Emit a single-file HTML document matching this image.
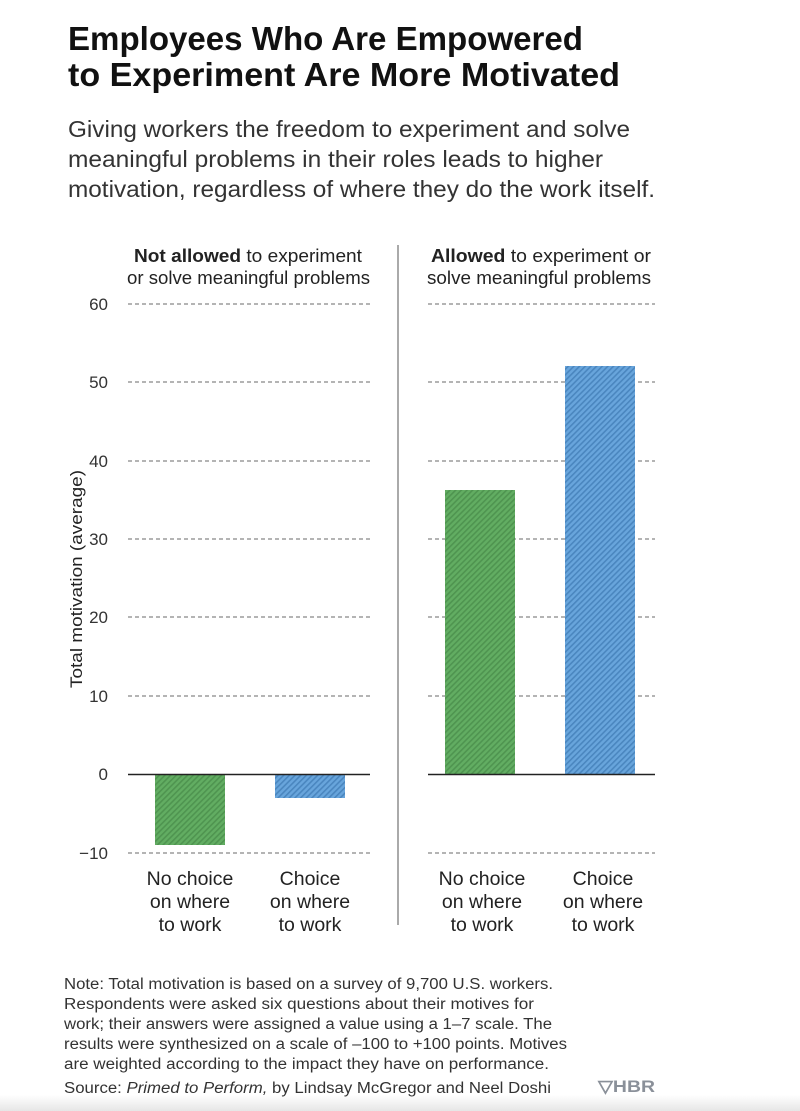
<!DOCTYPE html><html><head><style>body{margin:0;background:#fff}svg{display:block}text{font-family:"Liberation Sans",sans-serif}</style></head><body>
<svg width="800" height="1111" viewBox="0 0 800 1111" xmlns="http://www.w3.org/2000/svg">
<defs>
<pattern id="g" width="4" height="4" patternUnits="userSpaceOnUse" patternTransform="rotate(45)"><rect width="4" height="4" fill="#62ad62"/><rect width="1.6" height="4" fill="#4f9450"/></pattern>
<pattern id="b" width="4" height="4" patternUnits="userSpaceOnUse" patternTransform="rotate(45)"><rect width="4" height="4" fill="#68a5dc"/><rect width="1.6" height="4" fill="#4a86bf"/></pattern>
<linearGradient id="sh" x1="0" y1="0" x2="0" y2="1"><stop offset="0" stop-color="#fff"/><stop offset="1" stop-color="#e6e6e6"/></linearGradient>
</defs>
<rect x="0" y="1095" width="800" height="16" fill="url(#sh)"/>
<g font-weight="bold" font-size="33" fill="#111">
<text x="68" y="50" textLength="515" lengthAdjust="spacingAndGlyphs">Employees Who Are Empowered</text>
<text x="68" y="86" textLength="552" lengthAdjust="spacingAndGlyphs">to Experiment Are More Motivated</text></g>
<g font-size="23" fill="#333">
<text x="68" y="137" textLength="562" lengthAdjust="spacingAndGlyphs">Giving workers the freedom to experiment and solve</text>
<text x="68" y="167" textLength="535" lengthAdjust="spacingAndGlyphs">meaningful problems in their roles leads to higher</text>
<text x="68" y="197" textLength="587" lengthAdjust="spacingAndGlyphs">motivation, regardless of where they do the work itself.</text></g>
<g font-size="18.5" fill="#222">
<text x="134" y="262" textLength="228" lengthAdjust="spacingAndGlyphs"><tspan font-weight="bold">Not allowed</tspan> to experiment</text>
<text x="127" y="284" textLength="243" lengthAdjust="spacingAndGlyphs">or solve meaningful problems</text>
<text x="431" y="262" textLength="220" lengthAdjust="spacingAndGlyphs"><tspan font-weight="bold">Allowed</tspan> to experiment or</text>
<text x="427" y="284" textLength="224" lengthAdjust="spacingAndGlyphs">solve meaningful problems</text></g>
<line x1="398" y1="245" x2="398" y2="925" stroke="#555" stroke-width="1"/>
<g stroke="#888" stroke-width="1.2" stroke-dasharray="4,3">
<line x1="128" y1="304" x2="370" y2="304"/><line x1="428" y1="304" x2="655" y2="304"/>
<line x1="128" y1="382" x2="370" y2="382"/><line x1="428" y1="382" x2="655" y2="382"/>
<line x1="128" y1="461" x2="370" y2="461"/><line x1="428" y1="461" x2="655" y2="461"/>
<line x1="128" y1="539" x2="370" y2="539"/><line x1="428" y1="539" x2="655" y2="539"/>
<line x1="128" y1="617" x2="370" y2="617"/><line x1="428" y1="617" x2="655" y2="617"/>
<line x1="128" y1="696" x2="370" y2="696"/><line x1="428" y1="696" x2="655" y2="696"/>
<line x1="128" y1="853" x2="370" y2="853"/><line x1="428" y1="853" x2="655" y2="853"/>
</g>
<rect x="155" y="774" width="70" height="71" fill="url(#g)"/>
<rect x="275" y="774" width="70" height="24" fill="url(#b)"/>
<rect x="445" y="490" width="70" height="284" fill="url(#g)"/>
<rect x="565" y="366" width="70" height="408" fill="url(#b)"/>
<line x1="128" y1="774.5" x2="370" y2="774.5" stroke="#222" stroke-width="1.5"/>
<line x1="428" y1="774.5" x2="655" y2="774.5" stroke="#222" stroke-width="1.5"/>
<g font-size="17" fill="#333" text-anchor="end">
<text x="108" y="310">60</text><text x="108" y="388">50</text><text x="108" y="467">40</text><text x="108" y="545">30</text><text x="108" y="623">20</text><text x="108" y="702">10</text><text x="108" y="780">0</text><text x="108" y="859">−10</text></g>
<text transform="translate(82,579) rotate(-90)" font-size="17" fill="#222" text-anchor="middle" textLength="218" lengthAdjust="spacingAndGlyphs">Total motivation (average)</text>
<g font-size="19.5" fill="#222" text-anchor="middle">
<text x="190" y="885">No choice</text><text x="190" y="908">on where</text><text x="190" y="931">to work</text>
<text x="310" y="885">Choice</text><text x="310" y="908">on where</text><text x="310" y="931">to work</text>
<text x="482" y="885">No choice</text><text x="482" y="908">on where</text><text x="482" y="931">to work</text>
<text x="603" y="885">Choice</text><text x="603" y="908">on where</text><text x="603" y="931">to work</text></g>
<g font-size="15.5" fill="#333">
<text x="64" y="989" textLength="489" lengthAdjust="spacingAndGlyphs">Note: Total motivation is based on a survey of 9,700 U.S. workers.</text>
<text x="64" y="1009" textLength="470" lengthAdjust="spacingAndGlyphs">Respondents were asked six questions about their motives for</text>
<text x="64" y="1029" textLength="488" lengthAdjust="spacingAndGlyphs">work; their answers were assigned a value using a 1–7 scale. The</text>
<text x="64" y="1049" textLength="503" lengthAdjust="spacingAndGlyphs">results were synthesized on a scale of –100 to +100 points. Motives</text>
<text x="64" y="1069" textLength="485" lengthAdjust="spacingAndGlyphs">are weighted according to the impact they have on performance.</text>
<text x="64" y="1093" textLength="487" lengthAdjust="spacingAndGlyphs">Source: <tspan font-style="italic">Primed to Perform,</tspan> by Lindsay McGregor and Neel Doshi</text></g>
<text x="598" y="1092" font-size="17" font-weight="bold" fill="#8a9099" textLength="57" lengthAdjust="spacingAndGlyphs">▽HBR</text>
</svg></body></html>
